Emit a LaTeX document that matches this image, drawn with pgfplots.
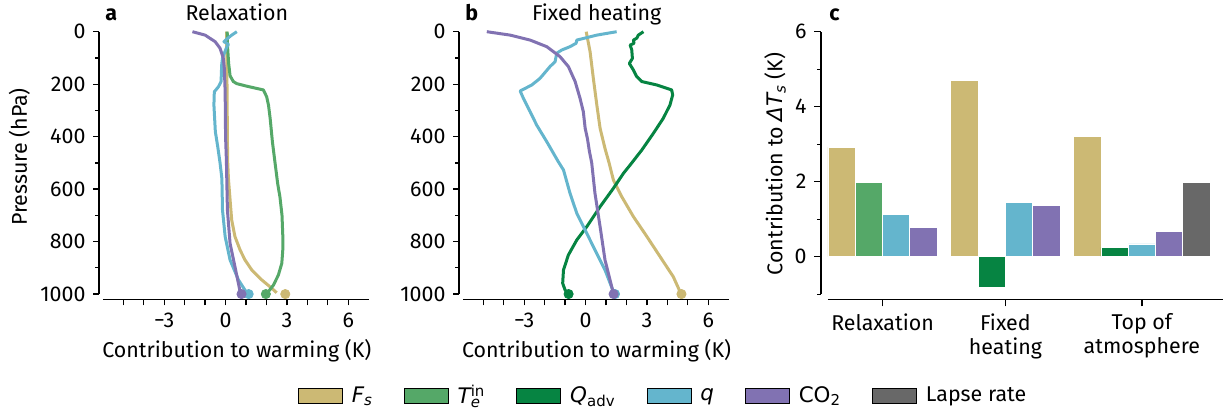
\documentclass[border=0pt]{standalone}
\usepackage{fontspec}
\setmainfont{Fira Sans}
\newfontfamily\dv{DejaVu Sans}
\usepackage{pgfplots}
\pgfplotsset{compat=1.18}
\definecolor{cFs}{HTML}{CCB974}
\definecolor{cTe}{HTML}{55A868}
\definecolor{cQa}{HTML}{068442}
\definecolor{cq}{HTML}{64B5CD}
\definecolor{cCO}{HTML}{8172B2}
\definecolor{cLR}{HTML}{686868}
\newcommand\fs{\fontsize{10.7}{12}\selectfont}
\begin{document}
\fs
\begin{tikzpicture}
\useasboundingbox (0pt,0pt) rectangle (615pt,-205.5pt);
\pgfplotsset{
  prof/.style={scale only axis, width=134.85pt, height=133.8pt,
    xmin=-6.19, xmax=7, ymin=0, ymax=1020, y dir=reverse, clip=false,
    axis x line*=bottom, axis y line*=left, axis line style={draw=none},
    tick align=outside,
    xtick={-5,-4,-3,-2,-1,0,1,2,3,4,5,6},
    xticklabels={,,−3,,,0,,,3,,,6},
    ytick={0,200,400,600,800,1000}, yticklabels={0,200,400,600,800,1000},
    minor ytick={100,300,500,700,900},
    major tick length=3pt, minor tick length=2pt,
    every tick/.style={black, line width=0.65pt},
    ticklabel style={font=\fs},
  },
  ln/.style={line width=1.5pt, no marks, line join=round},
  dot/.style={only marks, mark=*, mark size=2.3pt},
}
% ---------------- panel a
\begin{axis}[prof, at={(49.5pt,-149.65pt)}, anchor=south west]
\draw[line width=0.65pt] (axis cs:-6,1020) -- (axis cs:7,1020);
\draw[line width=0.65pt] (axis cs:-6.19,0) -- (axis cs:-6.19,1000);
\addplot[ln, cFs] coordinates {(0.05,0) (0.06,100) (0.07,200) (0.08,300) (0.09,400) (0.1,489) (0.14,560) (0.22,640) (0.30,718) (0.46,781) (0.71,832) (0.95,870) (1.28,908) (1.77,946) (2.26,978) (2.5,995)};
\addplot[dot, cFs] coordinates {(2.92,1000)};
\addplot[ln, cTe] coordinates {(0.08,0) (0.1,60) (0.15,120) (0.22,168) (0.38,190) (0.55,198) (1.0,207) (1.85,222) (2.01,248) (2.1,280) (2.18,330) (2.29,419) (2.42,500) (2.55,580) (2.66,630) (2.76,700) (2.8,780) (2.8,830) (2.75,883) (2.58,928) (2.34,966) (2.09,991) (1.97,1000)};
\addplot[dot, cTe] coordinates {(1.97,1000)};
\addplot[ln, cq] coordinates {(0.55,0) (0.30,13) (0.06,28) (-0.08,38) (0.14,48) (0.05,60) (-0.15,100) (-0.19,127) (-0.22,190) (-0.35,210) (-0.55,229) (-0.57,279) (-0.5,381) (-0.38,440) (-0.27,500) (-0.18,560) (-0.15,680) (-0.02,781) (0.22,870) (0.63,946) (0.95,985) (1.12,1000)};
\addplot[dot, cq] coordinates {(1.13,1000)};
\addplot[ln, cCO] coordinates {(-1.62,0) (-1.0,13) (-0.51,38) (-0.27,63) (-0.11,101) (-0.06,140) (-0.02,229) (0,400) (0.04,489) (0.09,680) (0.22,807) (0.46,896) (0.71,990) (0.78,1000)};
\addplot[dot, cCO] coordinates {(0.78,1000)};
\end{axis}
% ---------------- panel b
\begin{axis}[prof, at={(229.5pt,-149.65pt)}, anchor=south west]
\draw[line width=0.65pt] (axis cs:-6,1020) -- (axis cs:7,1020);
\draw[line width=0.65pt] (axis cs:-6.19,0) -- (axis cs:-6.19,1000);
\addplot[ln, cFs] coordinates {(0.03,0) (0.22,76) (0.38,178) (0.55,279) (0.71,368) (0.95,445) (1.15,500) (1.36,565) (1.77,629) (2.34,705) (3.0,781) (3.64,857) (4.29,934) (4.62,991) (4.69,1000)};
\addplot[dot, cFs] coordinates {(4.69,1000)};
\addplot[ln, cQa] coordinates {(2.83,0) (2.58,13) (2.5,25) (2.34,32) (2.37,44) (2.18,51) (2.26,70) (2.29,102) (2.14,121) (2.34,146) (2.5,171) (2.75,190) (3.48,203) (4.21,222) (4.26,241) (4.13,279) (3.8,330) (3.32,387) (2.75,451) (2.18,508) (1.85,540) (1.36,597) (0.71,667) (0.06,743) (-0.43,794) (-0.84,851) (-1.08,908) (-1.12,959) (-1.0,985) (-0.83,1000)};
\addplot[dot, cQa] coordinates {(-0.83,1000)};
\addplot[ln, cq] coordinates {(1.52,0) (0.55,13) (-0.43,32) (-0.46,44) (-0.76,57) (-1.17,70) (-1.41,82) (-1.49,114) (-1.74,133) (-2.23,178) (-2.63,203) (-3.2,226) (-3.04,254) (-2.71,305) (-2.39,356) (-1.9,419) (-1.33,496) (-1.08,527) (-0.76,616) (-0.43,692) (-0.02,756) (0.46,832) (0.95,908) (1.36,991) (1.44,1000)};
\addplot[dot, cq] coordinates {(1.44,1000)};
\addplot[ln, cCO] coordinates {(-4.83,0) (-3.69,13) (-2.71,32) (-1.9,57) (-1.25,95) (-0.84,133) (-0.51,190) (-0.27,254) (-0.11,305) (-0.02,368) (0.09,407) (0.19,457) (0.3,500) (0.46,616) (0.71,743) (0.95,870) (1.28,972) (1.37,1000)};
\addplot[dot, cCO] coordinates {(1.37,1000)};
\end{axis}
% ---------------- panel c
\begin{axis}[scale only axis, width=201pt, height=133.8pt,
    at={(410.5pt,-149.65pt)}, anchor=south west, clip=false,
    xmin=-0.256, xmax=14.47, ymin=-1.136, ymax=6,
    axis x line*=bottom, axis y line*=left, axis line style={draw=none},
    tick align=outside,
    xtick={2,6.5,11.5}, xticklabels={Relaxation,Fixed\\heating,Top of\\atmosphere},
    x tick label style={align=center, font=\fs},
    ytick={0,2,4,6}, yticklabels={0,2,4,6}, minor ytick={-1,1,3,5},
    y tick label style={font=\fs},
    major tick length=3.5pt, minor tick length=2pt,
    every tick/.style={black, line width=0.65pt},
    legend image code/.code={\fill[#1] (0pt,-3.65pt) rectangle (22pt,3.65pt);},
    legend style={draw=none, fill=none, at={(axis description cs:-0.384,-0.361)}, anchor=center,
      font=\fs, /tikz/every even column/.append style={column sep=11pt},
      nodes={inner xsep=4.5pt}},
    legend columns=6,
  ]
\draw[line width=0.65pt] (axis cs:0,-1.136) -- (axis cs:14.47,-1.136);
\draw[line width=0.65pt] (axis cs:-0.256,-1) -- (axis cs:-0.256,6);
\addplot[forget plot, ybar, bar width=1, bar shift=0pt, fill=cFs, draw=white, line width=0.4pt] coordinates {(0.5,2.92) (5,4.69) (9.5,3.20)};
\addplot[forget plot, ybar, bar width=1, bar shift=0pt, fill=cTe, draw=white, line width=0.4pt] coordinates {(1.5,1.97)};
\addplot[forget plot, ybar, bar width=1, bar shift=0pt, fill=cQa, draw=white, line width=0.4pt] coordinates {(6,-0.83) (10.5,0.25)};
\addplot[forget plot, ybar, bar width=1, bar shift=0pt, fill=cq, draw=white, line width=0.4pt] coordinates {(2.5,1.13) (7,1.44) (11.5,0.34)};
\addplot[forget plot, ybar, bar width=1, bar shift=0pt, fill=cCO, draw=white, line width=0.4pt] coordinates {(3.5,0.79) (8,1.37) (12.5,0.68)};
\addplot[forget plot, ybar, bar width=1, bar shift=0pt, fill=cLR, draw=white, line width=0.4pt] coordinates {(13.5,1.98)};
\addlegendimage{fill=cFs}\addlegendentry{{\dv\itshape F\textsubscript{s}}}
\addlegendimage{fill=cTe}\addlegendentry{{\dv\itshape T}\rlap{\textsubscript{\dv\itshape e}}\textsuperscript{\dv in}}
\addlegendimage{fill=cQa}\addlegendentry{{\dv\itshape Q}\textsubscript{\dv adv}}
\addlegendimage{fill=cq}\addlegendentry{{\dv\itshape q}}
\addlegendimage{fill=cCO}\addlegendentry{{\dv CO\textsubscript{2}}}
\addlegendimage{fill=cLR}\addlegendentry{Lapse rate}
\end{axis}
% ---------------- texts
\node[anchor=base west, inner sep=0pt, font=\bfseries] at (52.5pt,-10.35pt) {a};
\node[anchor=base, inner sep=0pt] at (118.4pt,-10.35pt) {Relaxation};
\node[anchor=base west, inner sep=0pt, font=\bfseries] at (232.5pt,-10.35pt) {b};
\node[anchor=base, inner sep=0pt] at (298.3pt,-10.35pt) {Fixed heating};
\node[anchor=base west, inner sep=0pt, font=\bfseries] at (414.5pt,-10.35pt) {c};
\node[anchor=base, inner sep=0pt] at (118.4pt,-178.5pt) {Contribution to warming (K)};
\node[anchor=base, inner sep=0pt] at (298.3pt,-178.5pt) {Contribution to warming (K)};
\node[rotate=90, inner sep=0pt] at (9.75pt,-78.5pt) {Pressure (hPa)};
\node[rotate=90, inner sep=0pt] at (387.5pt,-82pt) {Contribution to {\dv\itshape ΔT}\textsubscript{\dv\itshape s} (K)};
\end{tikzpicture}
\end{document}
